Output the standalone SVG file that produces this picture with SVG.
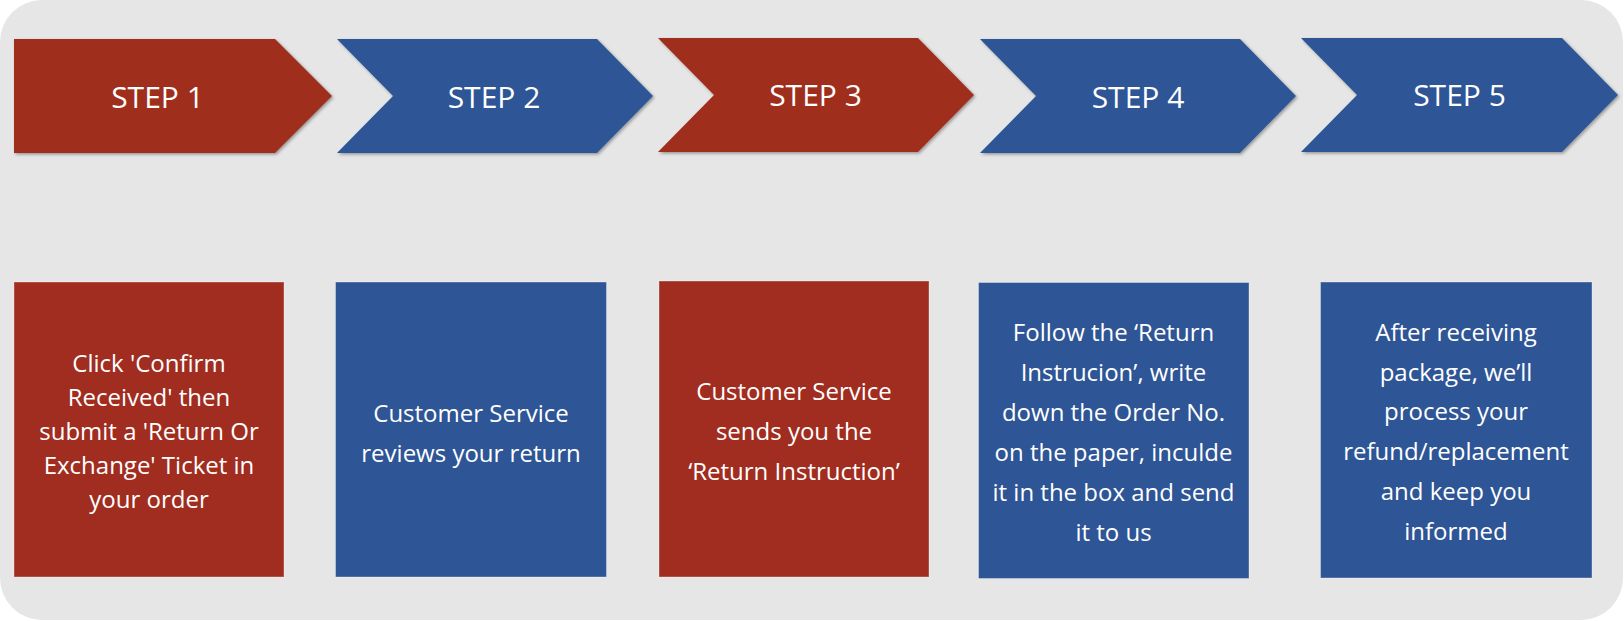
<svg xmlns="http://www.w3.org/2000/svg" width="1624" height="621" viewBox="0 0 1624 621">
<defs>
<filter id="sh" x="-10%" y="-10%" width="120%" height="130%">
<feDropShadow dx="1.5" dy="1.5" stdDeviation="1.5" flood-color="#000" flood-opacity="0.35"/>
</filter>
<style>
.red{fill:#A02D1F}
.blue{fill:#2E5595}
.box{stroke:#ffffff;stroke-opacity:0.35;stroke-width:1}
.step{font-family:"Open Sans","Liberation Sans",sans-serif;font-size:30px;fill:#ffffff;text-anchor:middle}
.txt{font-family:"Open Sans","Liberation Sans",sans-serif;font-size:24px;fill:#ffffff;text-anchor:middle}
</style>
</defs>
<rect x="0" y="0" width="1623" height="620" rx="42" ry="42" fill="#E6E6E6"/>
<g id="connectors"/>
<g id="step1">
<polygon class="red" filter="url(#sh)" points="14,39 275,39 332,96 275,153 14,153"/>
<text class="step" x="157.5" y="108">STEP 1</text>
</g>
<g id="step2">
<polygon class="blue" filter="url(#sh)" points="337,39 597,39 653,96 597,153 337,153 393,96"/>
<text class="step" x="494" y="108">STEP 2</text>
</g>
<g id="step3">
<polygon class="red" filter="url(#sh)" points="658,38 918,38 974,95 918,152 658,152 714,95"/>
<text class="step" x="815.5" y="106">STEP 3</text>
</g>
<g id="step4">
<polygon class="blue" filter="url(#sh)" points="980,39 1240,39 1296,96 1240,153 980,153 1036,96"/>
<text class="step" x="1138" y="108">STEP 4</text>
</g>
<g id="step5">
<polygon class="blue" filter="url(#sh)" points="1301,38 1562,38 1618,95 1562,152 1301,152 1357,95"/>
<text class="step" x="1459.5" y="106">STEP 5</text>
</g>
<g id="box1">
<rect class="red box" x="14" y="282" width="270" height="295"/>
<text class="txt" x="149" y="372">Click 'Confirm</text>
<text class="txt" x="149" y="406">Received' then</text>
<text class="txt" x="149" y="440">submit a 'Return Or</text>
<text class="txt" x="149" y="474">Exchange' Ticket in</text>
<text class="txt" x="149" y="508">your order</text>
</g>
<g id="box2">
<rect class="blue box" x="335.5" y="282" width="271" height="295"/>
<text class="txt" x="471" y="421.5">Customer Service</text>
<text class="txt" x="471" y="461.5">reviews your return</text>
</g>
<g id="box3">
<rect class="red box" x="659" y="281" width="270" height="296"/>
<text class="txt" x="794" y="400">Customer Service</text>
<text class="txt" x="794" y="440">sends you the</text>
<text class="txt" x="794" y="480">‘Return Instruction’</text>
</g>
<g id="box4">
<rect class="blue box" x="978.5" y="282.5" width="270.5" height="296"/>
<text class="txt" x="1113.5" y="341">Follow the ‘Return</text>
<text class="txt" x="1113.5" y="381">Instrucion’, write</text>
<text class="txt" x="1113.5" y="421">down the Order No.</text>
<text class="txt" x="1113.5" y="461">on the paper, inculde</text>
<text class="txt" x="1113.5" y="501">it in the box and send</text>
<text class="txt" x="1113.5" y="541">it to us</text>
</g>
<g id="box5">
<rect class="blue box" x="1320.5" y="282" width="271.5" height="296"/>
<text class="txt" x="1456" y="341">After receiving</text>
<text class="txt" x="1456" y="380.5">package, we’ll</text>
<text class="txt" x="1456" y="420">process your</text>
<text class="txt" x="1456" y="460">refund/replacement</text>
<text class="txt" x="1456" y="500">and keep you</text>
<text class="txt" x="1456" y="540">informed</text>
</g>
</svg>
